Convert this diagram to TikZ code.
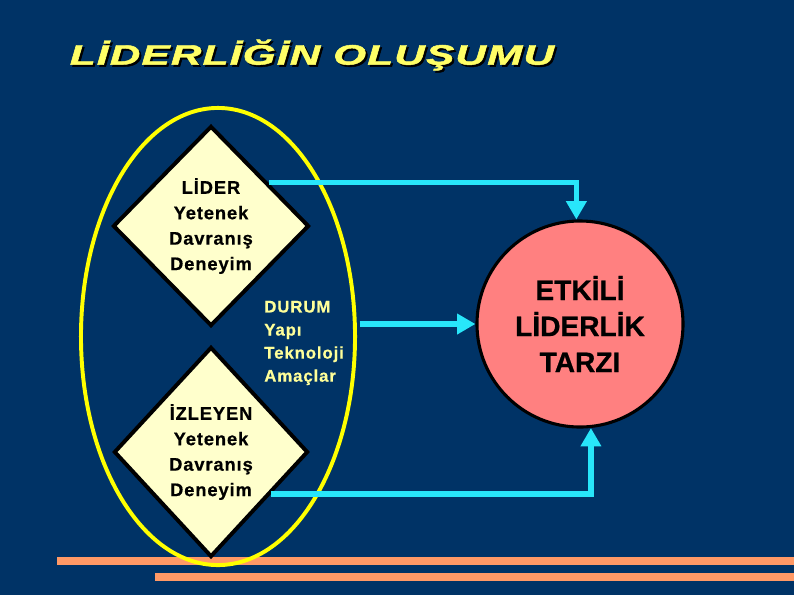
\documentclass[tikz,border=0pt]{standalone}
\usepackage{fontspec}
\setmainfont{Liberation Sans}
\newfontfamily\spacedfont{Liberation Sans}[LetterSpace=5, FakeBold=0.6]
\newfontfamily\titlefont{Liberation Sans}[LetterSpace=3, FakeBold=1.5]
\newfontfamily\heavyfont{Liberation Sans}[FakeBold=0.8]
\usetikzlibrary{shapes.geometric, arrows.meta, positioning}

\definecolor{slidebg}{RGB}{0,51,102}
\definecolor{titleyellow}{RGB}{255,255,102}
\definecolor{ringyellow}{RGB}{255,255,0}
\definecolor{durumyellow}{RGB}{255,255,153}
\definecolor{kutufill}{RGB}{255,255,204}
\definecolor{etkfill}{RGB}{255,128,128}
\definecolor{okcyan}{RGB}{40,230,250}
\definecolor{barorange}{RGB}{255,153,102}

\begin{document}
\begin{tikzpicture}[
        x=0.025cm, y=-0.025cm,
        kutu/.style={diamond, draw=black, line width=2.8pt, fill=kutufill, inner sep=0pt, align=center,
            font=\spacedfont\bfseries\fontsize{13}{18.1}\selectfont},
        ring/.style={ellipse, draw=ringyellow, line width=2.8pt, inner sep=0pt},
        etki/.style={circle, draw=black, line width=2.2pt, fill=etkfill, align=center, minimum size=5.15cm,
            font=\heavyfont\bfseries\fontsize{20}{25.6}\selectfont},
        flow/.style={draw=okcyan, line width=4pt, -{Triangle[length=13pt, width=14pt]}},
        bar/.style={fill=barorange},
        baslik/.style={font=\titlefont\bfseries\itshape\fontsize{20}{24}\selectfont}
    ]
        \fill[slidebg] (0,0) rectangle (794,595);

        % bottom bars
        \fill[bar] (57,557) rectangle (794,565);
        \fill[bar] (155,573) rectangle (794,581);

        % title with shadow
        \node (titleshadow) at (314,57) [baslik, text=black] {\scalebox{1.5}[1]{LİDERLİĞİN OLUŞUMU}};
        \node (title) at (312,55) [baslik, text=titleyellow] {\scalebox{1.5}[1]{LİDERLİĞİN OLUŞUMU}};

        \node (group) at (218,336.5) [ring, minimum width=6.85cm, minimum height=11.425cm] {};

        \node (lider) at (211,226) [kutu, minimum width=4.9cm, minimum height=5cm]
            {LİDER\\Yetenek\\Davranış\\Deneyim};
        \node (izleyen) [kutu, minimum width=4.85cm, minimum height=5.25cm, below=0.425cm of lider]
            {İZLEYEN\\Yetenek\\Davranış\\Deneyim};

        \node (durum) at (264,343) [anchor=west, align=left, inner sep=0pt, text=durumyellow,
            font=\spacedfont\bfseries\fontsize{12}{16.4}\selectfont]
            {DURUM\\Yapı\\Teknoloji\\Amaçlar};

        \node (etk) at (580,324) [etki] {ETKİLİ\\LİDERLİK\\TARZI};

        \draw [flow] (lider.37) -| (etk.92);
        \draw [flow, shorten <=11pt] (durum.east |- etk.west) -- (etk.west);
        \draw [flow] (izleyen.-35) -| (etk.-84);
    \end{tikzpicture}
\end{document}
